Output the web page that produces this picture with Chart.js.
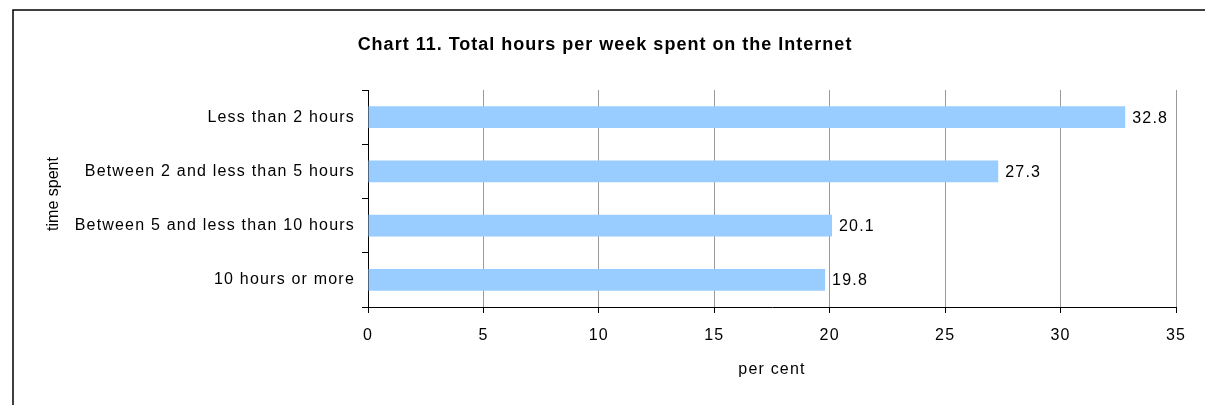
<!DOCTYPE html>
<html>
<head>
<meta charset="utf-8">
<script src="https://cdn.jsdelivr.net/npm/chart.js@4/dist/chart.umd.min.js"></script>
<style>
  html, body { margin: 0; padding: 0; background: #fff; }
  canvas { display: block; }
</style>
</head>
<body>
<canvas id="internetHours" width="1205" height="405"></canvas>
<script>
const categories = [
  "Less than 2 hours",
  "Between 2 and less than 5 hours",
  "Between 5 and less than 10 hours",
  "10 hours or more"
];
const perCent = [32.8, 27.3, 20.1, 19.8];
const xTicks = [0, 5, 10, 15, 20, 25, 30, 35];

const chartTitle = "Chart 11. Total hours per week spent on the Internet";
const yTitle = "time spent";
const xTitle = "per cent";

Chart.defaults.font.family = "'Liberation Sans', Arial, sans-serif";
Chart.defaults.font.size = 16;
Chart.defaults.color = '#000';

// the source picture is a bit stretched sideways, so widen the text a little
const wideText = {
  id: 'wideText',
  beforeUpdate(chart) { chart.ctx.letterSpacing = '1.2px'; },
  beforeDraw(chart) { chart.ctx.letterSpacing = '1.2px'; }
};

const frameAndTitles = {
  id: 'frameAndTitles',
  beforeDraw(chart) {
    const ctx = chart.ctx;
    ctx.save();
    ctx.strokeStyle = '#000';
    ctx.lineWidth = 1.5;
    ctx.beginPath();
    ctx.moveTo(13, 405);
    ctx.lineTo(13, 10);
    ctx.lineTo(1205, 10);
    ctx.stroke();
    ctx.restore();
  },
  afterDraw(chart) {
    const ctx = chart.ctx;
    ctx.save();
    ctx.fillStyle = '#000';
    ctx.letterSpacing = '1px';
    ctx.font = "bold 18px 'Liberation Sans', Arial, sans-serif";
    ctx.textAlign = 'center';
    ctx.textBaseline = 'middle';
    ctx.fillText(chartTitle, 605, 45);

    ctx.letterSpacing = '0px';
    ctx.font = "16px 'Liberation Sans', Arial, sans-serif";
    ctx.translate(54, 194);
    ctx.rotate(-Math.PI / 2);
    ctx.fillText(yTitle, 0, 0);
    ctx.restore();
  }
};

const valueLabels = {
  id: 'valueLabels',
  afterDatasetsDraw(chart) {
    const ctx = chart.ctx;
    const meta = chart.getDatasetMeta(0);
    ctx.save();
    ctx.fillStyle = '#000';
    ctx.font = "16px 'Liberation Sans', Arial, sans-serif";
    ctx.textAlign = 'left';
    ctx.textBaseline = 'middle';
    meta.data.forEach((bar, i) => {
      ctx.fillText(perCent[i].toFixed(1), bar.x + 7, bar.y + 1);
    });
    ctx.restore();
  }
};

const hoursCanvas = document.getElementById("internetHours");
let hoursChart = new Chart(hoursCanvas, {
  type: 'bar',
  data: {
    labels: categories,
    datasets: [
      {
        label: "per cent",
        data: perCent,
        backgroundColor: '#99CCFF',
        borderWidth: 0,
        barPercentage: 0.405,
        categoryPercentage: 1
      }
    ]
  },
  options: {
    indexAxis: 'y',
    responsive: false,
    animation: false,
    layout: { padding: { top: 90, right: 29, left: 0, bottom: 0 } },
    plugins: {
      legend: { display: false },
      title: { display: false },
      tooltip: { enabled: false }
    },
    scales: {
      x: {
        type: 'linear',
        min: xTicks[0],
        max: xTicks[xTicks.length - 1],
        afterBuildTicks(scale) { scale.ticks = xTicks.map(v => ({ value: v })); },
        afterFit(scale) { scale.height = 98; },
        ticks: { padding: 13, color: '#000', maxRotation: 0 },
        grid: {
          color: c => (c.tick && c.tick.value === 0) ? 'rgba(0,0,0,0)' : '#9a9a9a',
          tickColor: '#000',
          tickLength: 6,
          lineWidth: 1
        },
        border: { color: '#000', width: 1 },
        title: {
          display: true,
          text: xTitle,
          padding: { top: 0, bottom: 26 },
          color: '#000'
        }
      },
      y: {
        afterFit(scale) { scale.width = 368; },
        ticks: { padding: 7, color: '#000' },
        grid: {
          drawOnChartArea: false,
          color: '#000',
          tickLength: 6,
          offset: true
        },
        border: { color: '#000', width: 1 }
      }
    }
  },
  plugins: [wideText, frameAndTitles, valueLabels]
});
</script>
</body>
</html>
